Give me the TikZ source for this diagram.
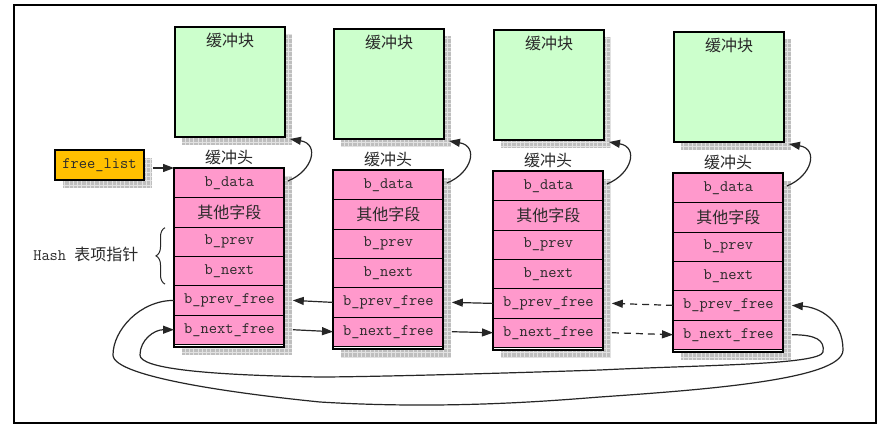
\documentclass[tikz,border=0pt]{standalone}
\usepackage{fontspec}
\newfontfamily\cjk{Noto Sans CJK SC}
\usetikzlibrary{arrows.meta,calc,decorations.pathreplacing}
\definecolor{pinkc}{HTML}{FF99CC}
\definecolor{greenc}{HTML}{CCFFCC}
\definecolor{orangec}{HTML}{FFC000}
\definecolor{shadowc}{HTML}{BEBEBE}
\definecolor{gridc}{HTML}{E2E2E2}
\definecolor{textc}{HTML}{2A2A2A}
\newcommand\myshade[4]{%
  \begin{scope}
    \clip (#1,#2) rectangle (#3,#4);
    \fill[shadowc] (#1,#2) rectangle (#3,#4);
    \draw[gridc, line width=0.6pt, step=4.3pt] (#1,#4) grid (#3,#2);
  \end{scope}}
\begin{document}
\begin{tikzpicture}[x=1pt,y=-1pt,
  monot/.style={font=\ttfamily\fontsize{16}{18}\selectfont, text=textc},
  cjkt/.style={font=\cjk\fontsize{16}{18}\selectfont, text=textc},
  prow/.style={draw=black, line width=0.8pt, fill=pinkc, minimum width=110pt,
    minimum height=29.33pt, inner sep=0pt, anchor=north west, monot},
  gbox/.style={draw=black, line width=2pt, fill=greenc, minimum width=110pt,
    minimum height=110pt, inner sep=0pt},
  flbox/.style={draw=black, line width=2pt, fill=orangec, minimum width=89pt,
    minimum height=30pt, inner sep=0pt, monot},
  arr/.style={-{Triangle[length=11pt,width=8pt]}, line width=1.2pt, draw=black!85},
  dasharr/.style={arr, dash pattern=on 7pt off 5pt},
  bracestyle/.style={decorate, decoration={brace, amplitude=9pt}, line width=1pt, draw=black!85}]
\useasboundingbox (0,0) rectangle (889,431);
\fill[white] (0,0) rectangle (889,431);
\draw[line width=2pt] (14,5) rectangle (876,423);

% free_list
\myshade{63}{158}{152}{188}
\node[flbox] (fl) at (99.5,165) {free\_list};

\foreach \ci/\x/\dy in {1/174/0,2/333/2,3/493/3,4/673/5}{
  \myshade{\x+8}{34+\dy}{\x+118}{145+\dy}
  \node[gbox, anchor=north west] (g\ci) at (\x,26+\dy) {};
  \node[cjkt] (gl\ci) at ($(g\ci.north)+(0,14)$) {缓冲块};
  \node[cjkt] (h\ci) at (\x+55,157+\dy) {缓冲头};
  \myshade{\x+8}{176+\dy}{\x+118}{355+\dy}
  \foreach \rr/\txt in {1/{b\_data},2/{\cjk\fontsize{16}{18}\selectfont 其他字段},3/{b\_prev},4/{b\_next},5/{b\_prev\_free},6/{b\_next\_free}}{
    \node[prow] (c\ci-\rr) at (\x,{168+\dy+(\rr-1)*29.33}) {\txt};
  }
  \fill[white] (\x,344.5+\dy) rectangle (\x+110,347+\dy);
  \draw[line width=2pt] (\x,168+\dy) rectangle (\x+110,347+\dy);
  \draw[arr] ($(c\ci-1.east)+(3,-2)$) .. controls +(25,-10) and +(30,5) .. ($(g\ci.south east)+(4,1)$);
}

% free_list pointer
\draw[arr] ($(fl.east)+(8,3)$) -- (c1-1.north west);

% links between neighbours
\foreach \ci/\cj in {1/2,2/3}{
  \draw[arr] (c\cj-5.west) -- ($(c\ci-5.east)+(8,0)$);
  \draw[arr] ($(c\ci-6.east)+(8,0)$) -- (c\cj-6.west);
}
\draw[dasharr] (c4-5.west) -- ($(c3-5.east)+(8,0)$);
\draw[dasharr] ($(c3-6.east)+(8,0)$) -- (c4-6.west);

% wrap-around links
\draw[arr] (c1-5.west) .. controls +(-34,0) and +(0,-25) .. (113,355)
  .. controls +(0,23) and +(-70,-7) .. (320,402)
  .. controls +(130,8) and +(-40,3) .. (600,397)
  .. controls +(100,-7) and +(0,30) .. (843,350)
  .. controls +(0,-30) and +(28,2) .. ($(c4-5.east)+(8,0)$);
\draw[arr] ($(c4-6.east)+(8,0)$) .. controls +(24,0) and +(2,-12) .. (823,352)
  .. controls +(-3,13) and +(100,-5) .. (600,370)
  .. controls +(-150,5) and +(30,0) .. (320,377)
  .. controls +(-120,-2) and +(0,13) .. (140,355)
  .. controls +(0,-15) and +(-20,0) .. (c1-6.west);

% hash brace
\draw[bracestyle] ($(c1-4.south west)+(-9,-2)$) -- ($(c1-3.north west)+(-9,1)$);
\node[anchor=east, text=textc] (hash) at (142,254)
  {\ttfamily\fontsize{16}{18}\selectfont Hash \cjk\fontsize{16}{18}\selectfont 表项指针};
\end{tikzpicture}
\end{document}
